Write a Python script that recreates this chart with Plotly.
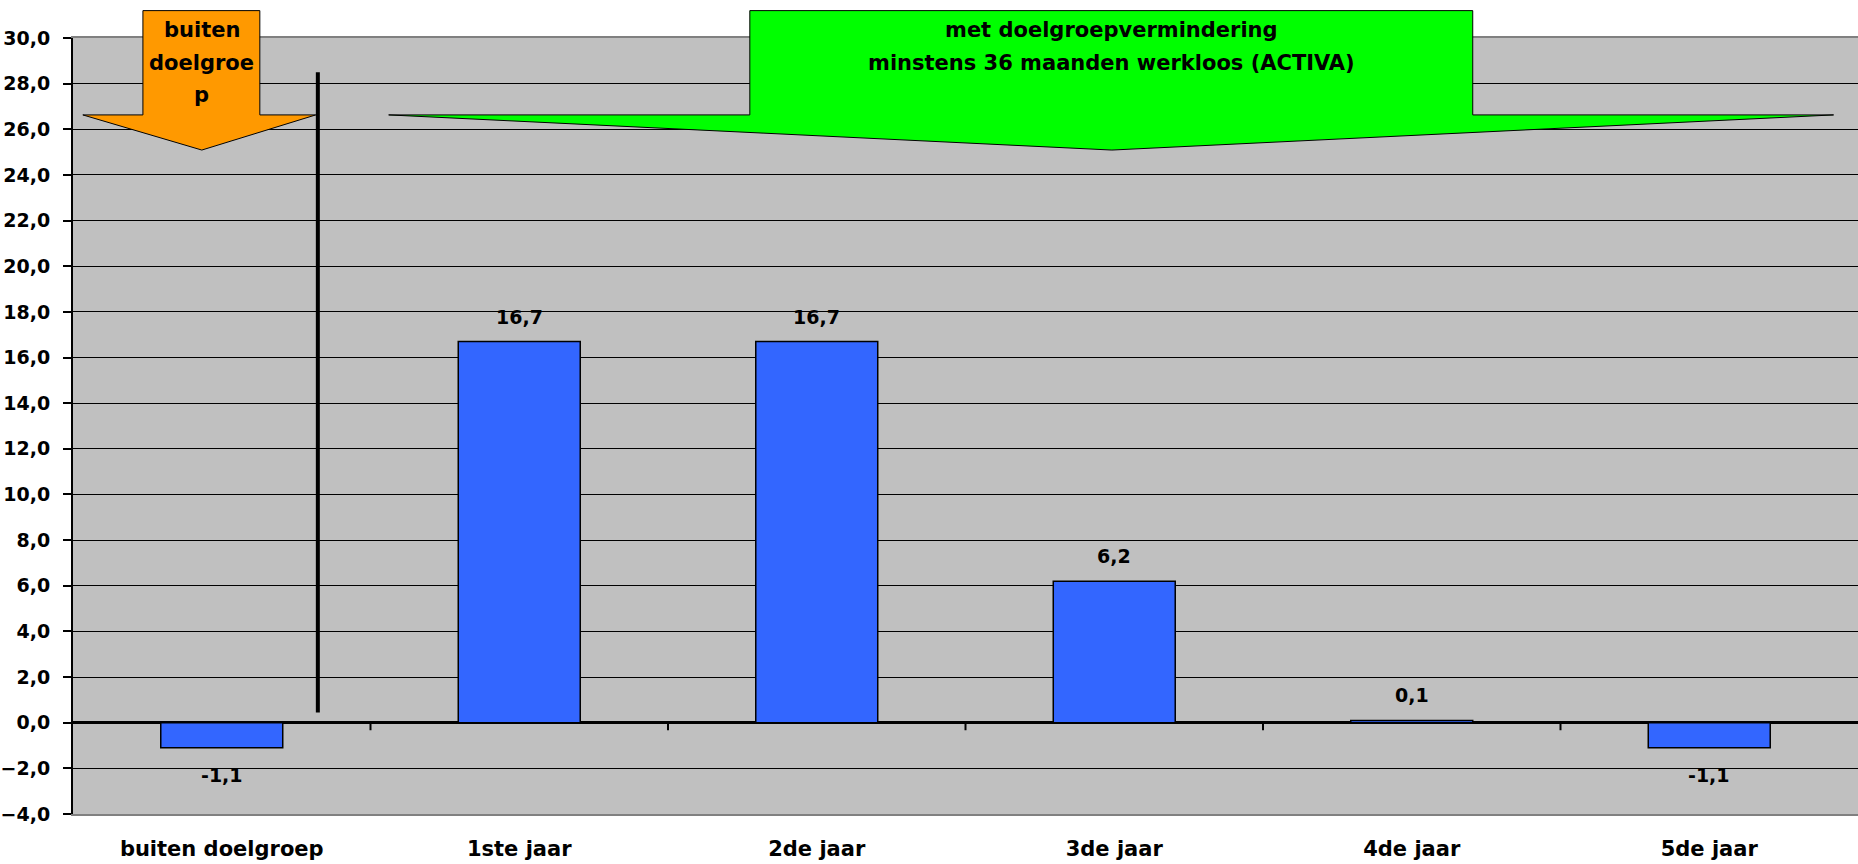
import plotly.graph_objects as go

# categorieën en waarden
categories = ["buiten doelgroep", "1ste jaar", "2de jaar", "3de jaar", "4de jaar", "5de jaar"]
values = [-1.1, 16.7, 16.7, 6.2, 0.1, -1.1]
labels = ["-1,1", "16,7", "16,7", "6,2", "0,1", "-1,1"]
orange_lines = ["buiten", "doelgroe", "p"]
green_lines = ["met doelgroepvermindering", "minstens 36 maanden werkloos (ACTIVA)"]

Y_MIN, Y_MAX = -4, 30
N = len(categories)
# het origineel is horizontaal uitgerekt Arial; DejaVu Sans komt qua breedte het dichtst in de buurt
FONT = "DejaVu Sans, Liberation Sans, sans-serif"


# categorie-/data-eenheden -> paper coördinaten (pijlen steken boven het plotvlak uit)
def px(x):
    return (x + 0.5) / N


def py(y):
    return (y - Y_MIN) / (Y_MAX - Y_MIN)


def arrow_path(body_l, body_r, top, shaft, head_l, head_r, tip_x, tip_y):
    pts = [(body_l, top), (body_r, top), (body_r, shaft), (head_r, shaft),
           (tip_x, tip_y), (head_l, shaft), (body_l, shaft)]
    return "M " + " L ".join(f"{px(a):.5f},{py(b):.5f}" for a, b in pts) + " Z"


fig = go.Figure()

fig.add_trace(go.Bar(
    x=categories, y=values,
    width=0.41,
    marker=dict(color="#3366FF", line=dict(color="black", width=1.5)),
    hoverinfo="x+y",
))

# datalabels boven/onder de staven
for cat, v, lab in zip(categories, values, labels):
    fig.add_annotation(
        x=cat, y=v, text=lab, showarrow=False,
        yanchor="middle", yshift=25 if v >= 0 else -27,
        font=dict(family=FONT, size=19, color="black", weight="bold"),
    )

shapes = []
# oranje pijl
shapes.append(dict(
    type="path", xref="paper", yref="paper", layer="above",
    path=arrow_path(-0.265, 0.128, 31.2, 26.63, -0.467, 0.316, -0.067, 25.09),
    fillcolor="#FF9900", line=dict(color="black", width=1),
))
# groene pijl
shapes.append(dict(
    type="path", xref="paper", yref="paper", layer="above",
    path=arrow_path(1.775, 4.205, 31.2, 26.63, 0.561, 5.418, 2.992, 25.09),
    fillcolor="#00FF00", line=dict(color="black", width=1),
))
# verticale scheidingslijn
shapes.append(dict(
    type="line", xref="x", yref="y", x0=0.323, x1=0.323, y0=0.45, y1=28.5,
    line=dict(color="black", width=4),
))
# kleine tickjes op de nullijn tussen de categorieën
for i in range(N - 1):
    shapes.append(dict(
        type="line", xref="x", yref="y", x0=i + 0.5, x1=i + 0.5, y0=0, y1=-0.33,
        line=dict(color="black", width=2),
    ))

for k, line in enumerate(orange_lines):
    fig.add_annotation(
        x=px(-0.067), y=py([30.35, 28.9, 27.5][k]), xref="paper", yref="paper",
        text=line, showarrow=False, xanchor="center", yanchor="middle",
        font=dict(family=FONT, size=21, color="black", weight="bold"),
    )
for k, line in enumerate(green_lines):
    fig.add_annotation(
        x=px(2.992), y=py([30.35, 28.9][k]), xref="paper", yref="paper",
        text=line, showarrow=False, xanchor="center", yanchor="middle",
        font=dict(family=FONT, size=21, color="black", weight="bold"),
    )

fig.update_layout(
    width=1858, height=864,
    margin=dict(l=73, r=0, t=38, b=50),
    paper_bgcolor="white",
    plot_bgcolor="#C0C0C0",
    separators=",.",
    showlegend=False,
    shapes=shapes,
    font=dict(family=FONT, size=20, color="black"),
    xaxis=dict(
        range=[-0.5, N - 0.5],
        showgrid=False,
        showline=True, linecolor="#808080", linewidth=2, mirror=True,
        ticks="outside", ticklen=15, tickcolor="rgba(0,0,0,0)",
        tickfont=dict(family=FONT, size=21, color="black", weight="bold"),
    ),
    yaxis=dict(
        range=[Y_MIN, Y_MAX],
        dtick=2, tick0=0, tickformat=".1f",
        showgrid=True, gridcolor="black", gridwidth=1,
        zeroline=True, zerolinecolor="black", zerolinewidth=3,
        showline=True, linecolor="black", linewidth=2,
        ticks="outside", ticklen=8, tickwidth=2, tickcolor="black",
        ticklabelstandoff=9,
        tickfont=dict(family=FONT, size=19, color="black", weight="bold"),
    ),
)

# body-marge van de pagina weg, zodat de figuur op (0,0) begint
fig.write_html("out.html", config={"displayModeBar": False},
               post_script="document.body.style.margin='0';")
